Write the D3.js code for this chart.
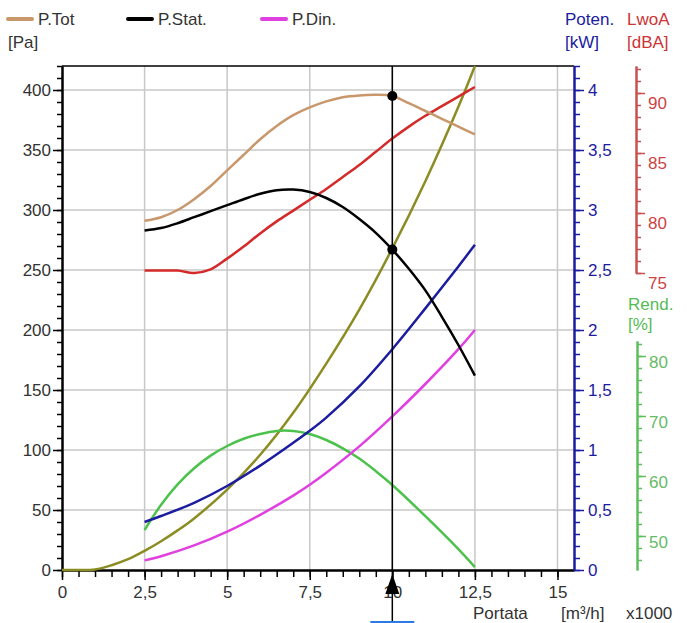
<!DOCTYPE html>
<html><head><meta charset="utf-8">
<script src="https://cdn.jsdelivr.net/npm/d3@7"></script>
<style>
html,body{margin:0;padding:0;background:#fff;}
svg text{font-family:"Liberation Sans",Arial,sans-serif;}
</style></head>
<body><svg id="c" width="687" height="623"></svg>
<script>
// ---- data (x in m3/h x1000) ----
const flowTicks = [0, 2.5, 5, 7.5, 10, 12.5, 15];
const flowTickLabels = ["0", "2,5", "5", "7,5", "10", "12,5", "15"];
const paTicks = [0, 50, 100, 150, 200, 250, 300, 350, 400];
const kwTicks = [0, 0.5, 1, 1.5, 2, 2.5, 3, 3.5, 4];
const kwTickLabels = ["0", "0,5", "1", "1,5", "2", "2,5", "3", "3,5", "4"];
const dbTicks = [75, 80, 85, 90];
const rendTicks = [50, 60, 70, 80];

const pTotX = [2.5, 3, 3.5, 4, 4.5, 5, 5.5, 6, 6.5, 7, 7.5, 8, 8.5, 9, 9.5, 10, 10.5, 11, 11.5, 12, 12.5];
const pTot  = [291, 294, 300, 309, 320, 333, 346, 359, 370, 379, 385.5, 390.5, 394, 395.5, 396, 395, 389, 382.5, 376, 369.5, 363];
const pStatX = [2.5, 3, 3.5, 4, 4.5, 5, 5.5, 6, 6.5, 7, 7.5, 8, 8.5, 9, 9.5, 10, 10.5, 11, 11.5, 12, 12.5];
const pStat  = [283, 285, 289, 294, 299, 304, 309, 313.5, 316.5, 317, 315, 310, 302.5, 292.5, 281, 267, 251, 233, 211, 187.5, 162];
const pDinX = [2.5, 3, 4, 5, 6, 7, 7.5, 8, 9, 10, 11, 12, 12.5];
const pDin  = [8, 11.5, 20.5, 32, 46, 62, 71, 81, 103, 128, 155, 184, 200];
const systemX = [0, 0.5, 1, 1.5, 2, 2.5, 3, 3.5, 4, 5, 6, 7, 8, 9, 10, 11, 12, 12.5];
const systemPa = [0, 0, 0.5, 4, 9, 16, 24, 33, 43, 67, 96, 131, 172, 217, 268, 324, 386, 420];
const powerX = [2.5, 3, 4, 5, 6, 7, 7.5, 8, 9, 10, 11, 12, 12.5];
const powerKw = [0.40, 0.45, 0.56, 0.70, 0.87, 1.06, 1.16, 1.27, 1.53, 1.84, 2.18, 2.53, 2.71];
const noiseX = [2.5, 3, 3.5, 4, 4.5, 5, 5.5, 6, 6.5, 7, 7.5, 8, 8.5, 9, 9.5, 10, 10.5, 11, 11.5, 12, 12.5];
const noiseDb = [75.2, 75.2, 75.2, 75.0, 75.3, 76.2, 77.2, 78.3, 79.3, 80.2, 81.1, 82.0, 83.0, 84.0, 85.1, 86.2, 87.2, 88.1, 88.9, 89.7, 90.5];
const rendX = [2.5, 3, 3.5, 4, 4.5, 5, 5.5, 6, 6.5, 7, 7.5, 8, 8.5, 9, 9.5, 10, 11, 12, 12.5];
const rend  = [51.0, 55.2, 58.6, 61.3, 63.4, 65.0, 66.2, 67.0, 67.5, 67.5, 67.0, 66.0, 64.6, 62.9, 60.8, 58.5, 53.3, 47.8, 44.8];
const opFlow = 10;
const opPoints = [395, 267];
const legendNames = ["P.Tot", "P.Stat.", "P.Din."];

// ---- setup ----
const svg = d3.select("#c");
const C = {tot:"#c9976c", stat:"#000000", din:"#e040e0", sys:"#8c8c24", pow:"#1c1ca0", noise:"#d42a2a", rend:"#4cc24c", grid:"#c8c8c8", txt:"#333333"};
const x = d3.scaleLinear([0, 15.5], [62, 574]);
const yPa = d3.scaleLinear([0, 420], [570, 66]);
const yKw = d3.scaleLinear([0, 4.2], [570, 66]);
const yDb = d3.scaleLinear([75, 92.25], [273, 66]);
const yRe = d3.scaleLinear([44.33, 82.5], [570, 341]);
const FS = "17px";

// grid
const g = svg.append("g");
g.selectAll(".vg").data(flowTicks.slice(1)).join("line")
  .attr("x1", d => x(d)).attr("x2", d => x(d)).attr("y1", 66).attr("y2", 570)
  .attr("stroke", C.grid).attr("stroke-width", 1.5);
g.selectAll(".hg").data(paTicks.slice(1)).join("line")
  .attr("x1", 62).attr("x2", 574).attr("y1", d => yPa(d)).attr("y2", d => yPa(d))
  .attr("stroke", C.grid).attr("stroke-width", 1.5);
// top frame
svg.append("line").attr("x1", 62).attr("x2", 574).attr("y1", 66).attr("y2", 66).attr("stroke", "#000").attr("stroke-width", 1.5);

function styleAxis(sel, color) {
  sel.selectAll("path").attr("stroke", color).attr("stroke-width", 2);
  sel.selectAll("line").attr("stroke", color).attr("stroke-width", 1.5);
  sel.selectAll("text").attr("fill", color).style("font-size", FS);
}

// left axis (Pa)
const paMinor = d3.range(0, 421, 10);
svg.append("g").attr("transform", "translate(62,0)")
  .call(d3.axisLeft(yPa).tickValues(paMinor).tickSize(5).tickFormat("").tickSizeOuter(0))
  .call(s => styleAxis(s, "#000"));
svg.append("g").attr("transform", "translate(62,0)")
  .call(d3.axisLeft(yPa).tickValues(paTicks).tickSize(9).tickPadding(2).tickSizeOuter(0))
  .call(s => styleAxis(s, "#000")).call(s => s.selectAll("text").attr("fill", C.txt));

// bottom axis
svg.append("g").attr("transform", "translate(0,570)")
  .call(d3.axisBottom(x).tickValues(d3.range(0, 15.01, 0.5)).tickSize(7).tickFormat("").tickSizeOuter(0))
  .call(s => styleAxis(s, "#000"));
svg.append("g").attr("transform", "translate(0,570)")
  .call(d3.axisBottom(x).tickValues(flowTicks).tickSize(10).tickPadding(6).tickFormat((d, i) => flowTickLabels[i]).tickSizeOuter(0))
  .call(s => styleAxis(s, "#000")).call(s => s.selectAll("text").attr("fill", C.txt));

// power axis
svg.append("g").attr("transform", "translate(574,0)")
  .call(d3.axisRight(yKw).tickValues(d3.range(0, 4.21, 0.1)).tickSize(6).tickFormat("").tickSizeOuter(0))
  .call(s => styleAxis(s, C.pow));
svg.append("g").attr("transform", "translate(574,0)")
  .call(d3.axisRight(yKw).tickValues(kwTicks).tickSize(10).tickPadding(4).tickFormat((d, i) => kwTickLabels[i]).tickSizeOuter(0))
  .call(s => styleAxis(s, C.pow));

// noise axis
svg.append("g").attr("transform", "translate(636,0)")
  .call(d3.axisRight(yDb).tickValues(d3.range(75, 92.3, 1)).tickSize(5).tickFormat("").tickSizeOuter(0))
  .call(s => styleAxis(s, "#c85050"));
svg.append("g").attr("transform", "translate(636,0)")
  .call(d3.axisRight(yDb).tickValues(dbTicks).tickSize(9).tickPadding(3).tickSizeOuter(0))
  .call(s => styleAxis(s, "#c85050")).call(s => s.selectAll("text").attr("dy", "0.9em").attr("fill", "#cc4444"));

// rend axis
svg.append("g").attr("transform", "translate(637,0)")
  .call(d3.axisRight(yRe).tickValues(d3.range(46, 82.6, 2)).tickSize(5).tickFormat("").tickSizeOuter(0))
  .call(s => styleAxis(s, "#5cbf5c"));
svg.append("g").attr("transform", "translate(637,0)")
  .call(d3.axisRight(yRe).tickValues(rendTicks).tickSize(9).tickPadding(3).tickSizeOuter(0))
  .call(s => styleAxis(s, "#5cbf5c")).call(s => s.selectAll("text").attr("dy", "0.7em").attr("fill", "#66bb66"));

// curves
function curve(xs, ys, yS, color, w) {
  const pts = xs.map((d, i) => [x(d), yS(ys[i])]);
  svg.append("path").attr("d", d3.line().curve(d3.curveCatmullRom.alpha(0.5))(pts))
    .attr("fill", "none").attr("stroke", color).attr("stroke-width", w || 2.5).attr("stroke-linejoin", "round");
}
curve(systemX, systemPa, yPa, C.sys);
curve(rendX, rend, yRe, C.rend);
curve(pDinX, pDin, yPa, C.din);
curve(powerX, powerKw, yKw, C.pow);
curve(noiseX, noiseDb, yDb, C.noise);
curve(pStatX, pStat, yPa, C.stat);
curve(pTotX, pTot, yPa, C.tot);

// operating point line & arrow
svg.append("line").attr("x1", x(opFlow)).attr("x2", x(opFlow)).attr("y1", 66).attr("y2", 623).attr("stroke", "#000").attr("stroke-width", 1.5);
svg.append("path").attr("d", `M${x(opFlow)},574 L${x(opFlow)-7},594 L${x(opFlow)+7},594 Z`).attr("fill", "#000");
svg.selectAll(".op").data(opPoints).join("circle").attr("cx", x(opFlow)).attr("cy", d => yPa(d)).attr("r", 5).attr("fill", "#000");
svg.append("line").attr("x1", x(opFlow) - 22).attr("x2", x(opFlow) + 22).attr("y1", 622).attr("y2", 622).attr("stroke", "#2a7de0").attr("stroke-width", 2);

// legend
const legendColors = [C.tot, C.stat, C.din];
const legendX = [8, 128, 262];
legendNames.forEach((n, i) => {
  svg.append("line").attr("x1", legendX[i]).attr("x2", legendX[i] + 24).attr("y1", 19).attr("y2", 19)
    .attr("stroke", legendColors[i]).attr("stroke-width", 4).attr("stroke-linecap", "round");
  svg.append("text").attr("x", legendX[i] + 30).attr("y", 25).text(n).attr("fill", C.txt).style("font-size", FS);
});
function label(t, xx, yy, col, anchor) {
  svg.append("text").attr("x", xx).attr("y", yy).text(t).attr("fill", col).style("font-size", FS).attr("text-anchor", anchor || "start");
}
label("[Pa]", 8, 48, C.txt);
label("Poten.", 565, 25, C.pow);
label("[kW]", 565, 48, C.pow);
label("LwoA", 627, 25, "#cc3333");
label("[dBA]", 627, 48, "#cc3333");
label("Rend.", 628, 310, "#55bb55");
label("[%]", 628, 330, "#55bb55");
label("Portata", 473, 619, C.txt);
label("[m³/h]", 561, 619, C.txt);
label("x1000", 626, 619, C.txt);
</script></body></html>
